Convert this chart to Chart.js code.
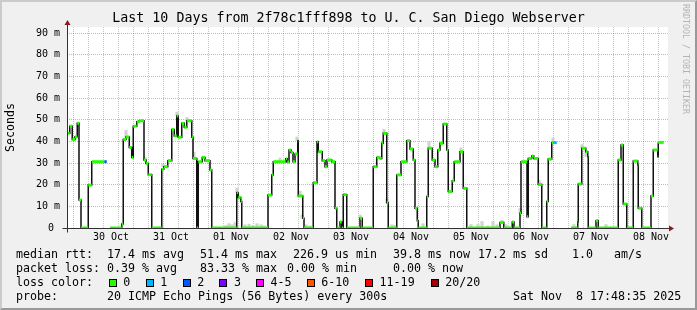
<!DOCTYPE html>
<html>
<head>
<meta charset="utf-8">
<script src="https://cdn.jsdelivr.net/npm/chart.js@4.4.1/dist/chart.umd.min.js"></script>
<style>
html, body { margin: 0; padding: 0; background: #f0f0f0; }
#wrap { position: relative; width: 697px; height: 310px; overflow: hidden; background: #f0f0f0;
  font-family: "DejaVu Sans Mono", monospace; color: #000; }
#c { position: absolute; left: 0; top: 0; }
.frame { position: absolute; left: 0; top: 0; width: 697px; height: 310px; box-sizing: border-box;
  border-top: 2px solid #cbcbcb; border-left: 2px solid #cbcbcb;
  border-right: 2px solid #999; border-bottom: 2px solid #999; pointer-events: none; }
.t { position: absolute; font-size: 11.65px; line-height: 14px; white-space: pre; }
.box { position: absolute; width: 6px; height: 6px; border: 1px solid #000; top: 279px; }
.brand { position: absolute; left: 681px; top: 4px; writing-mode: vertical-rl; font-size: 8.3px;
  line-height: 10px; color: #b4b4b4; }
</style>
</head>
<body>
<div id="wrap">
  <canvas id="c" width="697" height="310"></canvas>
  <div class="brand">RRDTOOL / TOBI OETIKER</div>

  <div class="t" style="top:247px;left:16px">median rtt:</div>
  <div class="t" style="top:247px;left:107px">17.4 ms avg</div>
  <div class="t" style="top:247px;left:200px">51.4 ms max</div>
  <div class="t" style="top:247px;left:293px">226.9 us min</div>
  <div class="t" style="top:247px;left:393px">39.8 ms now</div>
  <div class="t" style="top:247px;left:478px">17.2 ms sd</div>
  <div class="t" style="top:247px;left:572px">1.0   am/s</div>

  <div class="t" style="top:261px;left:16px">packet loss:</div>
  <div class="t" style="top:261px;left:107px">0.39 % avg</div>
  <div class="t" style="top:261px;left:200px">83.33 % max</div>
  <div class="t" style="top:261px;left:287px">0.00 % min</div>
  <div class="t" style="top:261px;left:393px">0.00 % now</div>

  <div class="t" style="top:275px;left:16px">loss color:</div>
  <div id="lossLegend"></div>

  <div class="t" style="top:289px;left:16px">probe:</div>
  <div class="t" style="top:289px;left:107px">20 ICMP Echo Pings (56 Bytes) every 300s</div>
  <div class="t" style="top:289px;left:513px">Sat Nov  8 17:48:35 2025</div>

  <div class="frame"></div>
</div>
<script>
// day labels, index = days since 29 Oct
const dayLabels = ["29 Oct", "30 Oct", "31 Oct", "01 Nov", "02 Nov", "03 Nov",
                   "04 Nov", "05 Nov", "06 Nov", "07 Nov", "08 Nov"];

// loss buckets
const lossLabels = ["0", "1", "2", "3", "4-5", "6-10", "11-19", "20/20"];
const lossColors = ["#26ff00", "#00b8ff", "#0059ff", "#7e00ff", "#ff00ff", "#ff5500", "#ff0000", "#a10000"];

// median rtt: hours since 29 Oct 00:00, value in ms, loss bucket
const rttHours = [18.4, 19.5, 20.5, 21.6, 22.5, 23.2, 24.0, 26.9, 28.3, 33.4, 34.3,
  35.6, 40.3, 40.9, 42.0, 43.3, 44.3, 44.9, 46.3, 47.2, 49.2, 50.0, 50.9, 52.3,
  56.3, 57.1, 58.7, 60.3, 61.3, 62.3, 62.9, 64.3, 65.3, 66.3, 68.3, 68.8, 70.3,
  70.9, 72.5, 73.6, 75.6, 76.3, 86.3, 86.9, 87.9, 88.3,
  98.8, 100.3, 100.9, 105.9, 106.5, 107.2, 108.0, 108.8, 109.6, 110.7, 110.9, 112.7, 113.2,
  116.9, 118.4, 118.9, 120.5, 121.6, 122.4, 124.3, 125.6, 126.3, 127.6, 128.3, 128.9, 130.3,
  135.6, 136.5, 140.9, 142.3, 143.6, 144.3, 144.9, 146.3, 146.9,
  150.3, 152.0, 154.3, 155.6, 156.9, 157.6, 158.5, 158.9,
  162.3, 162.9, 164.5, 165.6, 166.7, 167.6, 168.9, 170.3, 170.9, 172.5, 173.3, 175.6, 176.9, 178.3,
  191.6, 193.1, 196.5, 197.2, 199.6, 200.0, 202.4, 202.9, 204.3, 205.1, 206.9, 208.3,
  210.3, 210.9, 212.3, 212.9, 214.3,
  220.0, 222.7, 222.9, 224.3, 225.9, 226.7, 226.9, 230.0, 230.9,
  238.9, 240.0, 240.9, 242.3, 244.9, 246.7, 246.9, 248.3,
  252.0, 252.9, 254.7, 254.9, 257.1];
const rttMs = [43.7, 47.0, 40.9, 42.1, 48.3, 12.9, 0, 19.8, 30.6, 30.6, null,
  0, 1.8, 40.9, 42.0, 37.2, 32.6, 47.0, 49.0, 49.5, 31.4, 29.8, 24.6, 0,
  27.1, 28.3, 31.1, 45.5, 42.5, 51.7, 41.9, 48.3, 46.5, 49.5, 41.9, 32.1, 0,
  30.6, 32.6, 31.1, 26.8, 0, 16.3, 14.1, 12.2, 0,
  15.2, 24.5, 30.6, 32.0, 30.5, 36.0, 34.8, 30.6, 34.2, 40.3, 14.8, 4.5, 0,
  20.9, 39.8, 35.2, 31.1, 28.3, 31.4, 30.6, 9.1, 0, 2.8, 0, 15.4, 0,
  4.5, 0, 28.3, 32.6, 32.1, 39.1, 43.7, 11.7, 0,
  24.5, 30.6, 40.3, 36.5, 31.4, 9.1, 3.4, 0,
  14.5, 36.8, 31.4, 28.3, 36.0, 39.1, 48.0, 36.0, 16.8, 21.8, 30.6, 35.2, 18.3, 0,
  2.5, 0, 2.8, 0, 6.8, 30.6, 5.2, 32.1, 33.2, 32.1, 20.1, 0,
  12.2, 31.8, 39.4, 39.4, null,
  0, 2.8, 20.3, 36.8, 35.2, 32.9, 0, 3.4, 0,
  31.4, 38.3, 11.1, 0, 30.9, 29.1, 9.1, 0,
  14.8, 36.0, 32.9, 39.5, null];
const rttLoss = rttHours.map(() => 0);
rttLoss[9] = 2;
rttLoss[rttHours.indexOf(212.9)] = 1;

// smoke (spread of the pings), hours / ms
const smokeHours = [42.0, 49.6, 56.8, 62.4, 66.4, 69.2, 82.0, 83.2, 84.4, 85.6, 86.4,
  89.6, 91.2, 92.8, 94.4, 96.0, 97.2, 103.6, 110.4, 111.6, 112.4, 114.0, 115.6, 135.6,
  145.2, 146.4, 148.4, 149.6, 160.8, 163.2, 176.0, 180.0, 182.8, 184.4, 186.8, 188.8,
  190.4, 192.4, 194.0, 199.6, 207.2, 212.8, 221.2, 224.4, 226.0, 234.0, 242.4];
const smokeLo = [42, 31, 28.3, 51.7, 49.5, 32, 0, 0, 0, 0, 16.3,
  0, 0, 0, 0, 0, 0, 30.6, 40.3, 14.8, 4.5, 0, 0, 4.5,
  43.7, 11.7, 0, 0, 0, 36.8, 35.2, 0, 0, 0, 0, 0,
  0, 2.5, 0, 6.8, 20.1, 39.4, 0, 36.8, 33, 0, 0];
const smokeHi = [45, 32.5, 29.5, 53.5, 51, 35, 1.2, 2, 1.5, 2.5, 18.5,
  1.5, 1.8, 1.2, 2, 1.5, 1, 32.3, 42, 17, 6, 1.5, 1, 6,
  45.5, 13.5, 1.5, 1.2, 2, 40, 37, 1.6, 1.6, 3, 1, 3,
  1.5, 3.5, 1.6, 9, 22, 41.5, 1.6, 38.5, 36, 1.6, 1];

const MONO = "'DejaVu Sans Mono', monospace";
const GRID_MINOR = "#c4c4c4";
const GRID_MAJOR = "rgba(230,0,0,0.35)";

// legend boxes
const legendX = [108.7, 145.7, 182.7, 219.3, 256, 306.7, 365, 430.7];
const legendEl = document.getElementById("lossLegend");
lossLabels.forEach((lab, i) => {
  const b = document.createElement("div");
  b.className = "box";
  b.style.left = legendX[i] + "px";
  b.style.background = lossColors[i];
  legendEl.appendChild(b);
  const t = document.createElement("div");
  t.className = "t";
  t.style.top = "275px";
  t.style.left = (legendX[i] + 14.6) + "px";
  t.textContent = lab;
  legendEl.appendChild(t);
});

// black step line
const stepData = rttHours.map((h, i) => ({ x: h, y: rttMs[i] }));

// coloured horizontal pieces, one per level
const levelData = [];
const levelLoss = [];
for (let i = 0; i < rttHours.length - 1; i++) {
  if (rttMs[i] === null) continue;
  levelData.push({ x: rttHours[i], y: rttMs[i] }, { x: rttHours[i + 1], y: rttMs[i] }, { x: rttHours[i + 1], y: null });
  levelLoss.push(rttLoss[i], rttLoss[i], rttLoss[i]);
}

const smokeData = smokeHours.map((h, i) => ({ x: h, y: [smokeLo[i], smokeHi[i]] }));

const plotDecor = {
  id: "plotDecor",
  beforeDraw(chart) {
    const { ctx, chartArea: a } = chart;
    ctx.save();
    ctx.fillStyle = "#ffffff";
    ctx.fillRect(a.left, a.top, a.right - a.left, a.bottom - a.top);
    ctx.restore();
  },
  afterDatasetsDraw(chart) {
    const { ctx, chartArea: a } = chart;
    const l = Math.round(a.left) + 0.5, b = Math.round(a.bottom) + 0.5;
    ctx.save();
    ctx.strokeStyle = "#333";
    ctx.lineWidth = 1;
    ctx.beginPath();
    ctx.moveTo(l - 5, b); ctx.lineTo(a.right + 1, b);
    ctx.moveTo(l, b + 4); ctx.lineTo(l, a.top - 2);
    ctx.stroke();
    ctx.fillStyle = "#8b1a1a";
    ctx.beginPath();
    ctx.moveTo(l, a.top - 7); ctx.lineTo(l - 3, a.top - 2); ctx.lineTo(l + 3, a.top - 2);
    ctx.closePath(); ctx.fill();
    ctx.beginPath();
    ctx.moveTo(a.right + 6, b); ctx.lineTo(a.right + 1, b - 3); ctx.lineTo(a.right + 1, b + 3);
    ctx.closePath(); ctx.fill();
    ctx.restore();
  }
};

new Chart(document.getElementById("c"), {
  type: "line",
  data: {
    datasets: [
      {
        data: levelData,
        borderColor: lossColors[0],
        borderWidth: 3,
        pointRadius: 0,
        spanGaps: false,
        order: 0,
        clip: { left: 2, right: 2, top: 5, bottom: 0 },
        segment: { borderColor: ctx => lossColors[levelLoss[ctx.p0DataIndex]] }
      },
      {
        data: stepData,
        borderColor: "#111",
        borderWidth: 1.5,
        stepped: "before",
        pointRadius: 0,
        spanGaps: false,
        order: 1
      },
      {
        type: "bar",
        data: smokeData,
        backgroundColor: "#d2d2d2",
        barThickness: 2.5,
        grouped: false,
        order: 2
      }
    ]
  },
  options: {
    responsive: false,
    animation: false,
    events: [],
    layout: { padding: { left: 0, right: 0, top: 0, bottom: 62 } },
    plugins: {
      legend: { display: false },
      tooltip: { enabled: false },
      title: {
        display: true,
        text: "Last 10 Days from 2f78c1fff898 to U. C. San Diego Webserver",
        color: "#000",
        font: { family: MONO, size: 13.3, weight: "normal", lineHeight: 1.2 },
        padding: { top: 11, bottom: 0 }
      }
    },
    scales: {
      x: {
        type: "linear",
        min: 18.4,
        max: 258.8,
        offset: false,
        afterBuildTicks: s => {
          const t = [];
          for (let v = Math.ceil(s.min / 6) * 6; v < s.max - 1; v += 6) t.push({ value: v });
          s.ticks = t;
        },
        afterFit: s => { s.height = 20; },
        grid: {
          color: ctx => (ctx.tick && ctx.tick.value % 24 === 0) ? GRID_MAJOR : GRID_MINOR,
          drawTicks: false,
          lineWidth: 1
        },
        border: { display: false, dash: [1, 1] },
        ticks: {
          autoSkip: false,
          maxRotation: 0,
          padding: 3,
          color: "#000",
          font: { family: MONO, size: 10 },
          callback: v => (v % 24 === 12) ? dayLabels[Math.floor(v / 24)] : ""
        }
      },
      y: {
        type: "linear",
        min: 0,
        max: 92.8,
        afterBuildTicks: s => {
          const t = [];
          for (let v = 0; v <= 90; v += 5) t.push({ value: v });
          s.ticks = t;
        },
        afterFit: s => { s.width = 67; },
        grid: {
          color: ctx => (ctx.tick && ctx.tick.value % 10 === 0) ? GRID_MAJOR : GRID_MINOR,
          drawTicks: false,
          lineWidth: 1
        },
        border: { display: false, dash: [1, 1] },
        title: {
          display: true,
          text: "Seconds",
          color: "#000",
          font: { family: MONO, size: 11.65, lineHeight: 1.2 },
          padding: { top: 3.5, bottom: 0 }
        },
        ticks: {
          padding: 7,
          color: "#000",
          font: { family: MONO, size: 10 },
          callback: v => v === 0 ? "0 " : (v % 10 === 0 ? v + " m" : "")
        }
      },
      yRight: {
        position: "right",
        display: true,
        afterFit: s => { s.width = 29; },
        grid: { display: false },
        border: { display: false },
        ticks: { display: false }
      }
    }
  },
  plugins: [plotDecor]
});
</script>
</body>
</html>
